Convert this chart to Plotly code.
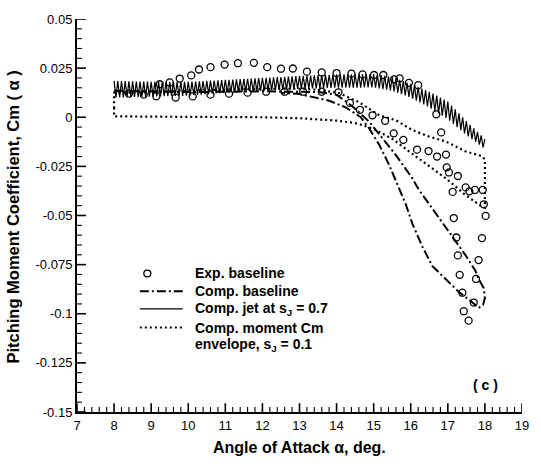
import plotly.graph_objects as go

# ---------------- data ----------------
exp_x = [9.14, 9.23, 9.50, 9.66, 9.77, 10.08, 10.12, 10.29, 10.60, 10.98, 11.34, 11.77,
         12.13, 12.50, 12.82, 13.20, 13.60, 14.00, 14.40, 14.70, 15.01, 15.26, 15.55,
         15.70, 15.95, 16.20, 16.69, 16.82,
         8.40, 8.80, 10.60, 11.10, 11.60, 12.10, 12.60, 13.10, 13.60,
         14.05, 14.36, 14.63, 14.97, 15.31, 15.54, 15.80, 16.17, 16.48, 16.71, 16.95,
         16.97, 17.03, 17.27, 17.13, 17.48, 17.58, 17.73, 17.94, 17.97, 18.02, 17.16,
         17.23, 17.92, 17.27, 17.83, 17.32, 17.76, 17.39, 17.70, 17.43, 17.56]
exp_y = [0.0107, 0.0168, 0.0177, 0.0100, 0.0197, 0.0213, 0.0106, 0.0243, 0.0255, 0.0268,
         0.0275, 0.0277, 0.0255, 0.0247, 0.0248, 0.0232, 0.0228, 0.0225, 0.0222, 0.0218,
         0.0215, 0.0215, 0.0193, 0.0198, 0.0175, 0.0163, 0.0015, -0.0077,
         0.0120, 0.0115, 0.0115, 0.0120, 0.0125, 0.0130, 0.0130, 0.0130, 0.0130,
         0.0127, 0.0073, 0.0038, 0.0010, -0.0018, -0.0082, -0.0115, -0.0165, -0.0172,
         -0.0200, -0.0190, -0.0255, -0.0281, -0.0299, -0.0380, -0.0357, -0.0377, -0.0370,
         -0.0370, -0.0443, -0.0502, -0.0513, -0.0612, -0.0615, -0.0703, -0.0727, -0.0802,
         -0.0823, -0.0893, -0.0943, -0.0987, -0.1035]

base_x = [8.0, 9.0, 10.0, 11.0, 12.0, 13.0, 13.5, 14.0, 14.43, 14.88, 15.23, 15.59, 16.04,
          16.22, 16.49, 16.76, 17.07, 17.47, 17.74, 17.83, 17.97, 18.0, 17.95, 17.83, 17.65,
          17.30, 16.94, 16.58, 16.31, 16.04, 15.86, 15.59, 15.41, 15.15, 14.88, 14.65,
          14.25, 13.8, 13.0, 12.5]
base_y = [0.0135, 0.0130, 0.0128, 0.0130, 0.0132, 0.0130, 0.0128, 0.0115, 0.0055, -0.0023,
          -0.0107, -0.0190, -0.0310, -0.0370, -0.0440, -0.0510, -0.0590, -0.0700, -0.0780,
          -0.0823, -0.0870, -0.0920, -0.0955, -0.0970, -0.0940, -0.0890, -0.0823, -0.0757,
          -0.0657, -0.0540, -0.0440, -0.0320, -0.0240, -0.0140, -0.0057, 0.0000, 0.0050,
          0.0084, 0.0118, 0.0125]

env_x = [8.0, 8.0, 9.0, 10.0, 11.0, 12.0, 13.0, 13.5, 14.0, 14.5, 14.7, 15.06, 15.5, 16.0,
         16.5, 16.94, 17.47, 17.92, 18.0, 18.0, 17.92, 17.47, 16.94, 16.49, 16.04, 15.6,
         15.15, 14.6, 14.07, 13.5, 13.0, 12.0, 11.0, 10.0, 9.0, 8.0, 8.0]
env_y = [0.0050, 0.0005, 0.0003, 0.0003, 0.0002, 0.0000, -0.0005, -0.0010, -0.0017,
         -0.0030, -0.0040, -0.0065, -0.0110, -0.0180, -0.0250, -0.0310, -0.0395, -0.0455,
         -0.0460, -0.0215, -0.0198, -0.0173, -0.0123, -0.0098, -0.0065, -0.0015, 0.0010,
         0.0077, 0.0123, 0.0140, 0.0145, 0.0145, 0.0140, 0.0135, 0.0130, 0.0125, 0.0050]

jet_x_hi = [8.0, 8.1, 8.2, 8.3, 8.4, 8.5, 8.6, 8.7, 8.8, 8.9,
            9.0, 9.1, 9.2, 9.3, 9.4, 9.5, 9.6, 9.7, 9.8, 9.9,
            10.0, 10.1, 10.2, 10.3, 10.4, 10.5, 10.6, 10.7, 10.8, 10.9,
            11.0, 11.1, 11.2, 11.3, 11.4, 11.5, 11.6, 11.7, 11.8, 11.9,
            12.0, 12.1, 12.2, 12.3, 12.4, 12.5, 12.6, 12.7, 12.8, 12.9,
            13.0, 13.1, 13.2, 13.3, 13.4, 13.5, 13.6, 13.7, 13.8, 13.9,
            14.0, 14.1, 14.2, 14.3, 14.4, 14.5, 14.6, 14.7, 14.8, 14.9,
            15.0, 15.1, 15.2, 15.3, 15.4, 15.5, 15.6, 15.7, 15.8, 15.9,
            16.0, 16.1, 16.2, 16.3, 16.4, 16.5, 16.6, 16.7, 16.8, 16.9,
            17.0, 17.1, 17.2, 17.3, 17.4, 17.5, 17.6, 17.7, 17.8, 17.9,
            18.0]
jet_hi = [0.0185, 0.0184, 0.0184, 0.0184, 0.0183, 0.0183, 0.0182, 0.0182, 0.0181, 0.0181,
          0.0180, 0.0180, 0.0180, 0.0180, 0.0180, 0.0180, 0.0180, 0.0180, 0.0180, 0.0180,
          0.0180, 0.0181, 0.0182, 0.0183, 0.0184, 0.0185, 0.0186, 0.0187, 0.0188, 0.0189,
          0.0190, 0.0191, 0.0192, 0.0193, 0.0194, 0.0195, 0.0196, 0.0197, 0.0198, 0.0199,
          0.0200, 0.0201, 0.0202, 0.0203, 0.0204, 0.0205, 0.0206, 0.0207, 0.0208, 0.0209,
          0.0210, 0.0211, 0.0212, 0.0212, 0.0213, 0.0214, 0.0215, 0.0216, 0.0216, 0.0217,
          0.0218, 0.0218, 0.0218, 0.0219, 0.0219, 0.0219, 0.0219, 0.0219, 0.0220, 0.0220,
          0.0220, 0.0217, 0.0214, 0.0211, 0.0208, 0.0205, 0.0198, 0.0191, 0.0184, 0.0177,
          0.0170, 0.0162, 0.0154, 0.0146, 0.0138, 0.0130, 0.0120, 0.0110, 0.0100, 0.0090,
          0.0080, 0.0060, 0.0040, 0.0020, 0.0000, -0.0020, -0.0038, -0.0056, -0.0074, -0.0092,
          -0.0110]
jet_x_lo = [8.05, 8.15, 8.25, 8.35, 8.45, 8.55, 8.65, 8.75, 8.85, 8.95,
            9.05, 9.15, 9.25, 9.35, 9.45, 9.55, 9.65, 9.75, 9.85, 9.95,
            10.05, 10.15, 10.25, 10.35, 10.45, 10.55, 10.65, 10.75, 10.85, 10.95,
            11.05, 11.15, 11.25, 11.35, 11.45, 11.55, 11.65, 11.75, 11.85, 11.95,
            12.05, 12.15, 12.25, 12.35, 12.45, 12.55, 12.65, 12.75, 12.85, 12.95,
            13.05, 13.15, 13.25, 13.35, 13.45, 13.55, 13.65, 13.75, 13.85, 13.95,
            14.05, 14.15, 14.25, 14.35, 14.45, 14.55, 14.65, 14.75, 14.85, 14.95,
            15.05, 15.15, 15.25, 15.35, 15.45, 15.55, 15.65, 15.75, 15.85, 15.95,
            16.05, 16.15, 16.25, 16.35, 16.45, 16.55, 16.65, 16.75, 16.85, 16.95,
            17.05, 17.15, 17.25, 17.35, 17.45, 17.55, 17.65, 17.75, 17.85, 17.95]
jet_lo = [0.0100, 0.0101, 0.0101, 0.0102, 0.0102, 0.0103, 0.0103, 0.0104, 0.0104, 0.0105,
          0.0105, 0.0106, 0.0106, 0.0107, 0.0107, 0.0108, 0.0108, 0.0109, 0.0109, 0.0110,
          0.0111, 0.0112, 0.0114, 0.0115, 0.0117, 0.0118, 0.0120, 0.0121, 0.0123, 0.0124,
          0.0125, 0.0126, 0.0127, 0.0128, 0.0129, 0.0130, 0.0131, 0.0132, 0.0133, 0.0134,
          0.0135, 0.0136, 0.0137, 0.0138, 0.0139, 0.0140, 0.0141, 0.0142, 0.0143, 0.0144,
          0.0145, 0.0146, 0.0146, 0.0147, 0.0147, 0.0148, 0.0148, 0.0149, 0.0149, 0.0150,
          0.0150, 0.0150, 0.0150, 0.0151, 0.0151, 0.0151, 0.0151, 0.0152, 0.0152, 0.0152,
          0.0150, 0.0147, 0.0143, 0.0140, 0.0137, 0.0132, 0.0125, 0.0118, 0.0111, 0.0104,
          0.0095, 0.0085, 0.0075, 0.0065, 0.0055, 0.0044, 0.0032, 0.0020, 0.0008, -0.0004,
          -0.0018, -0.0034, -0.0050, -0.0066, -0.0082, -0.0097, -0.0111, -0.0125, -0.0139, -0.0153]

x_ticks = [7, 8, 9, 10, 11, 12, 13, 14, 15, 16, 17, 18, 19]
y_ticks = [0.05, 0.025, 0, -0.025, -0.05, -0.075, -0.1, -0.125, -0.15]
y_tick_text = ["0.05", "0.025", "0", "-0.025", "-0.05", "-0.075", "-0.1", "-0.125", "-0.15"]

legend_labels = ["Exp. baseline", "Comp. baseline", "Comp. jet at s<sub>J</sub> = 0.7",
                 "Comp. moment Cm", "envelope, s<sub>J</sub> = 0.1"]

# interleave the jet oscillation (upper / lower turning points)
jet_pts = sorted(list(zip(jet_x_hi, jet_hi)) + list(zip(jet_x_lo, jet_lo)))
jet_x = [p[0] for p in jet_pts]
jet_y = [p[1] for p in jet_pts]

FONT = "Liberation Sans, Arial, Helvetica, sans-serif"

# pixel geometry of the plot area
L, R, T, B = 77, 523, 12, 412
def px(xp):
    return (xp - L) / (R - L)
def py(yp):
    return (B - yp) / (B - T)

x0, x1 = x_ticks[0], x_ticks[-1]
y0, y1 = y_ticks[-1], y_ticks[0]
x_per_px = (x1 - x0) / (R - L)
y_per_px = (y1 - y0) / (B - T)

# inside tick marks, built from the tick arrays
x_minor = [round(a + k * 0.2, 2) for a in x_ticks[:-1] for k in (1, 2, 3, 4)]
y_minor = [round(b + k * 0.005, 4) for b in y_ticks[1:] for k in (1, 2, 3, 4)]

def xtick_segments(vals, length_px):
    xs, ys = [], []
    for v in vals:
        xs += [v, v, None]
        ys += [y0, y0 + length_px * y_per_px, None]
    return xs, ys

def ytick_segments(vals, length_px):
    xs, ys = [], []
    for v in vals:
        xs += [x0, x0 + length_px * x_per_px, None]
        ys += [v, v, None]
    return xs, ys

fig = go.Figure()
fig.add_trace(go.Scatter(x=jet_x, y=jet_y, mode="lines", showlegend=False,
                         line=dict(color="black", width=1.2)))
fig.add_trace(go.Scatter(x=base_x, y=base_y, mode="lines", showlegend=False,
                         line=dict(color="black", width=2, dash="9px,3px,2px,3px")))
fig.add_trace(go.Scatter(x=env_x, y=env_y, mode="lines", showlegend=False,
                         line=dict(color="black", width=2.2, dash="2px,3px")))
fig.add_trace(go.Scatter(x=exp_x, y=exp_y, mode="markers", showlegend=False,
                         marker=dict(symbol="circle-open", size=7, color="black",
                                     line=dict(width=1.3, color="black"))))

for (xs, ys), w in [(xtick_segments(x_ticks, 9), 1.6), (xtick_segments(x_minor, 5), 1.1),
                    (ytick_segments(y_ticks, 9), 1.6), (ytick_segments(y_minor, 5), 1.1)]:
    fig.add_trace(go.Scatter(x=xs, y=ys, mode="lines", showlegend=False, hoverinfo="skip",
                             cliponaxis=False, line=dict(color="black", width=w)))

shapes = [
    dict(type="circle", xref="paper", yref="paper", x0=px(144), x1=px(151), y0=py(274.5), y1=py(267.5),
         line=dict(color="black", width=1.3), opacity=1),
    dict(type="line", xref="paper", yref="paper", x0=px(140), x1=px(183), y0=py(289), y1=py(289),
         line=dict(color="black", width=2, dash="9px,3px,2px,3px"), opacity=1),
    dict(type="line", xref="paper", yref="paper", x0=px(140), x1=px(183), y0=py(307), y1=py(307),
         line=dict(color="black", width=1.2), opacity=1),
    dict(type="line", xref="paper", yref="paper", x0=px(140), x1=px(183), y0=py(326), y1=py(326),
         line=dict(color="black", width=2.2, dash="2px,3px"), opacity=1),
]
legend_y = [271, 289, 307, 326, 344]
annotations = []
for txt, yy in zip(legend_labels, legend_y):
    annotations.append(dict(x=px(193), y=py(yy), xref="paper", yref="paper", text="<b>" + txt + "</b>",
                            xanchor="left", yanchor="middle", showarrow=False,
                            font=dict(family=FONT, size=14, color="black")))
annotations.append(dict(x=px(501), y=py(385), xref="paper", yref="paper", text="<b>( c )</b>",
                        xanchor="right", yanchor="middle", showarrow=False,
                        font=dict(family=FONT, size=14, color="black")))
annotations.append(dict(x=px(13), y=py(214), xref="paper", yref="paper",
                        text="<b>Pitching Moment Coefficient, Cm ( α )</b>", textangle=-90,
                        xanchor="center", yanchor="middle", showarrow=False,
                        font=dict(family=FONT, size=16.5, color="black")))
annotations.append(dict(x=px(300), y=py(448), xref="paper", yref="paper",
                        text="<b>Angle of Attack α, deg.</b>",
                        xanchor="center", yanchor="middle", showarrow=False,
                        font=dict(family=FONT, size=16, color="black")))

fig.update_layout(
    width=541, height=470,
    margin=dict(l=L, r=541 - R, t=T, b=470 - B),
    paper_bgcolor="white", plot_bgcolor="white",
    showlegend=False,
    xaxis=dict(range=[x0, x1], tickmode="array", tickvals=x_ticks,
               ticktext=[str(v) for v in x_ticks], ticks="",
               showgrid=False, zeroline=False,
               showline=True, linewidth=2, linecolor="black",
               tickfont=dict(family=FONT, size=13, color="black")),
    yaxis=dict(range=[y0, y1], tickmode="array", tickvals=y_ticks,
               ticktext=y_tick_text, ticks="",
               showgrid=False, zeroline=False,
               showline=True, linewidth=2, linecolor="black",
               tickfont=dict(family=FONT, size=13, color="black")),
    shapes=shapes,
    annotations=annotations,
)

fig.write_html("out.html")
